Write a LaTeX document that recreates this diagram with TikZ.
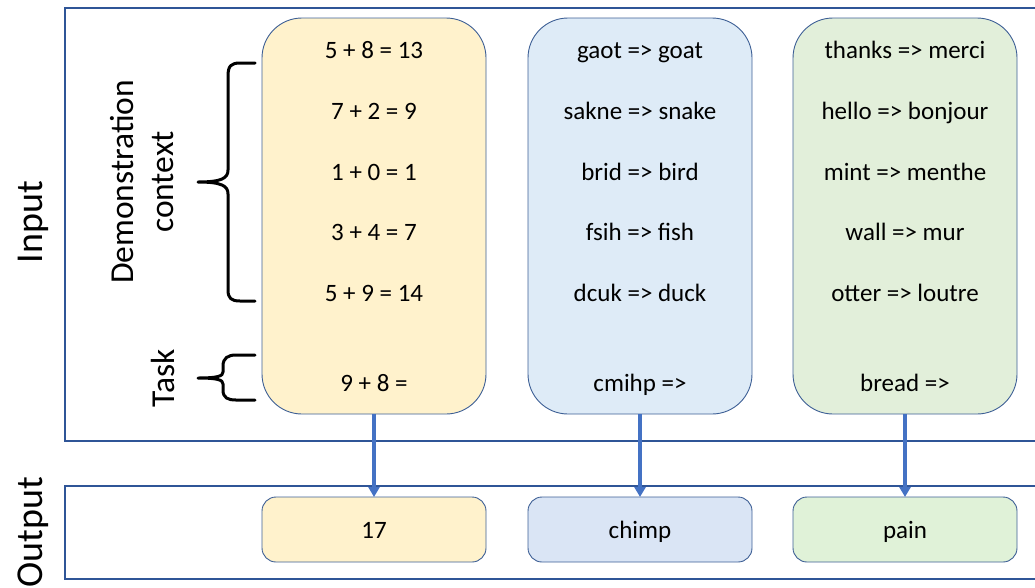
\documentclass[tikz,border=0pt]{standalone}
\usepackage{fontspec}
\setmainfont{Carlito}
\usetikzlibrary{arrows.meta}
\definecolor{frameblue}{HTML}{2F5597}
\definecolor{edgeblue}{HTML}{3D5F95}
\definecolor{arrowblue}{HTML}{4472C4}
\definecolor{yel}{HTML}{FFF2CC}
\definecolor{blu}{HTML}{DEEBF7}
\definecolor{bluout}{HTML}{DAE5F5}
\definecolor{grn}{HTML}{E2EFDA}
\definecolor{grnout}{HTML}{E0F2D8}
\tikzset{
  inbox/.style={draw=edgeblue, line width=0.9pt, rounded corners=40pt},
  outbox/.style={draw=edgeblue, line width=0.9pt, rounded corners=14pt},
  frame/.style={draw=frameblue, line width=1.1pt},
  txt/.style={font=\fontsize{25}{29}\selectfont, inner sep=0pt, text height=17pt, text depth=1pt},
  side/.style={font=\fontsize{33.5}{40}\selectfont, rotate=90, align=center, inner sep=0pt},
  big/.style={font=\fontsize{38}{44}\selectfont, rotate=90, inner sep=0pt},
  flow/.style={draw=arrowblue, line width=3.2pt, -{Triangle[length=10pt,width=11pt]}},
  bracepath/.style={draw=black, line width=3pt, line cap=round, line join=round}
}
\begin{document}
\begin{tikzpicture}[x=1pt,y=-1pt]
\useasboundingbox (0,0) rectangle (1035,587);
\clip (0,0) rectangle (1035,587);
% frames
\draw[frame] (1045,8) -- (65,8) -- (65,441) -- (1045,441);
\draw[frame] (1045,486) -- (65,486) -- (65,579) -- (1045,579);
\node[big] (input) at (33,222) {Input};
\node[big] (output) at (33,532) {Output};
% input boxes
\path[inbox, fill=yel] (262,18) rectangle (486,414);
\path[inbox, fill=blu] (528,18) rectangle (752,414);
\path[inbox, fill=grn] (793,18) rectangle (1017,414);
\coordinate (a1) at (374,414);
\coordinate (b1) at (640,414);
\coordinate (c1) at (905,414);
% texts column 1
\node[txt] (y1) at (374,50) {5 + 8 = 13};
\node[txt] (y2) at (374,111) {7 + 2 = 9};
\node[txt] (y3) at (374,172) {1 + 0 = 1};
\node[txt] (y4) at (374,232) {3 + 4 = 7};
\node[txt] (y5) at (374,293) {5 + 9 = 14};
\node[txt] (y6) at (374,383) {9 + 8 =};
% column 2
\node[txt] (b1t) at (640,50) {gaot => goat};
\node[txt] (b2t) at (640,111) {sakne => snake};
\node[txt] (b3t) at (640,172) {brid => bird};
\node[txt] (b4t) at (640,232) {fsih => fish};
\node[txt] (b5t) at (640,293) {dcuk => duck};
\node[txt] (b6t) at (640,383) {cmihp =>};
% column 3
\node[txt] (g1) at (905,50) {thanks => merci};
\node[txt] (g2) at (905,111) {hello => bonjour};
\node[txt] (g3) at (905,172) {mint => menthe};
\node[txt] (g4) at (905,232) {wall => mur};
\node[txt] (g5) at (905,293) {otter => loutre};
\node[txt] (g6) at (905,383) {bread =>};
% output boxes
\path[outbox, fill=yel] (262,497) rectangle (486,562);
\path[outbox, fill=bluout] (528,497) rectangle (752,562);
\path[outbox, fill=grnout] (793,497) rectangle (1017,562);
\coordinate (a2) at (374,497);
\coordinate (b2) at (640,497);
\coordinate (c2) at (905,497);
\node[txt] (o1) at (374,530) {17};
\node[txt] (o2) at (640,530) {chimp};
\node[txt] (o3) at (905,530) {pain};
% arrows
\draw[flow] (a1) -- (a2);
\draw[flow] (b1) -- (b2);
\draw[flow] (c1) -- (c2);
% braces
\draw[bracepath] (255,63) -- (240,63) .. controls (231,63) and (228,66) .. (228,76)
  -- (228,170) .. controls (228,178) and (222,182) .. (198,182)
  .. controls (222,182) and (228,186) .. (228,194)
  -- (228,290) .. controls (228,298) and (231,301) .. (240,301) -- (255,301);
\draw[bracepath] (255,355) -- (236,355) .. controls (228,355) and (223,358) .. (223,366)
  -- (223,372) .. controls (223,376) and (218,378) .. (198,378)
  .. controls (218,378) and (223,380) .. (223,384)
  -- (223,390) .. controls (223,398) and (228,400) .. (236,400) -- (255,400);
\node[side] (demo) at (142,182) {Demonstration\\context};
\node[side] (task) at (163,378) {Task};
\end{tikzpicture}
\end{document}
